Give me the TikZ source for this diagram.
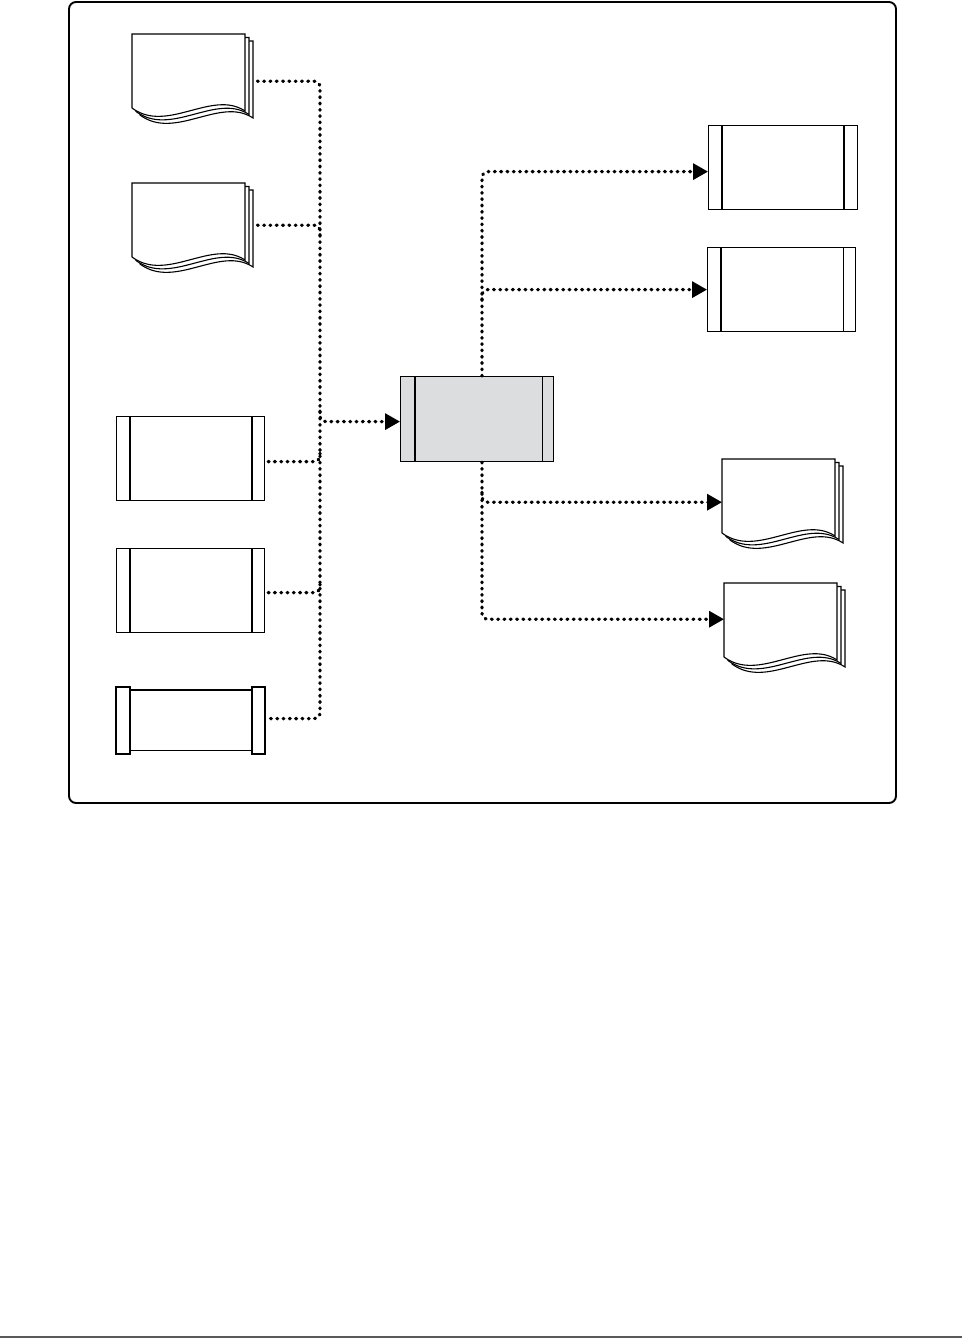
\documentclass[tikz,border=0pt]{standalone}
\usetikzlibrary{arrows.meta,calc}
\definecolor{boxgray}{HTML}{DCDDDF}
\tikzset{
  conn/.style={line width=3.3pt, line cap=round, dash pattern=on 0.8pt off 5.5pt, rounded corners=6pt},
  arr/.style={conn, -{Triangle[length=15pt,width=16pt]}},
  docnode/.style={draw=none, minimum width=121pt, minimum height=91pt, inner sep=0pt, anchor=north west},
  bbox/.style={draw, line width=1.2pt, minimum width=148pt, minimum height=84pt, inner sep=0pt, anchor=north west},
  thickin/.style={line width=2.4pt},
  thinin/.style={line width=1.2pt},
  frame/.style={line width=1.9pt, rounded corners=7pt},
  docline/.style={line width=1.1pt, fill=white}
}
\newcommand\mydoc[1]{%
  \begin{scope}[shift={(#1.north west)}]
    \foreach \sa/\sb in {8/7,4/3.5,0/0}{
      \draw[docline] (\sa,\sb) -- ++(113,0) -- ++(0,77)
        .. controls ++(-33,-22) and ++(35,26) .. ++(-113,-3) -- cycle;
    }
  \end{scope}}
\begin{document}
\begin{tikzpicture}[x=1pt,y=-1pt]
\useasboundingbox (0,0) rectangle (965,1339);
% frame and bottom rule
\draw[frame] (69,2) rectangle (896,803);
\draw[line width=1.8pt, color=black!65] (0,1337) -- (962,1337);

% left documents
\node[docnode] (d1) at (132,34) {};
\mydoc{d1}
\node[docnode] (d2) at (132,183) {};
\mydoc{d2}

% left boxes
\node[bbox] (b3) at (116,416) {};
\draw[thickin] ([xshift=14pt]b3.north west) -- ([xshift=14pt]b3.south west);
\draw[thickin] ([xshift=-13pt]b3.north east) -- ([xshift=-13pt]b3.south east);
\node[bbox] (b4) at (116,548) {};
\draw[thickin] ([xshift=14pt]b4.north west) -- ([xshift=14pt]b4.south west);
\draw[thickin] ([xshift=-13pt]b4.north east) -- ([xshift=-13pt]b4.south east);
\node[bbox, draw=none, minimum height=66pt] (b5) at (116,687) {};
\draw[thinin] ([xshift=14pt,yshift=-3pt]b5.north west) rectangle ([xshift=-13pt,yshift=4pt]b5.south east);
\draw[line width=2.2pt] (b5.north west) rectangle ([xshift=14pt]b5.south west);
\draw[line width=2.2pt] ([xshift=-13pt]b5.north east) rectangle (b5.south east);

% centre box
\node[bbox, fill=boxgray, minimum width=153pt, minimum height=85pt] (c) at (400,376) {};
\draw[thickin] ([xshift=15pt]c.north west) -- ([xshift=15pt]c.south west);
\draw[thinin] ([xshift=-12pt]c.north east) -- ([xshift=-12pt]c.south east);

% right boxes
\node[bbox, minimum width=149pt] (r1) at (708,125) {};
\draw[thickin] ([xshift=14pt]r1.north west) -- ([xshift=14pt]r1.south west);
\draw[thickin] ([xshift=-14pt]r1.north east) -- ([xshift=-14pt]r1.south east);
\node[bbox] (r2) at (707,247) {};
\draw[thinin] ([xshift=14pt]r2.north west) -- ([xshift=14pt]r2.south west);
\draw[thinin] ([xshift=-13pt]r2.north east) -- ([xshift=-13pt]r2.south east);

% right documents
\node[docnode] (r3) at (722,459) {};
\mydoc{r3}
\node[docnode] (r4) at (724,583) {};
\mydoc{r4}

% bus coordinates
\coordinate (L) at (320,421);
\coordinate (R) at (482,421);
\coordinate (s1) at ([xshift=4pt,yshift=-1.5pt]d1.east);
\coordinate (s2) at ([xshift=4pt,yshift=3.5pt]d2.east);
\coordinate (s3) at ([xshift=3pt,yshift=-3pt]b3.east);
\coordinate (s4) at ([xshift=3pt,yshift=-2pt]b4.east);
\coordinate (s5) at ([xshift=3pt,yshift=2pt]b5.east);
\coordinate (t1) at ([yshift=-4pt]r1.west);
\coordinate (t2) at (r2.west);
\coordinate (t3) at ([yshift=2.5pt]r3.west);
\coordinate (t4) at ([yshift=9.5pt]r4.west);

% left connectors
\draw[conn] (s1) -| (L) |- (s5);
\draw[conn] (s2) -| ($(s2 -| L)+(0,10)$);
\draw[conn] (s3) -| ($(s3 -| L)+(0,-10)$);
\draw[conn] (s4) -| ($(s4 -| L)+(0,-10)$);
\draw[arr] ($(L)+(0,-10)$) |- ([yshift=-2.5pt]c.west);

% right connectors
\draw[arr] (c.north -| R) |- (t1);
\draw[arr] ($(t2 -| R)+(0,10)$) |- (t2);
\draw[arr] (c.south -| R) |- (t4);
\draw[arr] ($(t3 -| R)+(0,-10)$) |- (t3);
\end{tikzpicture}
\end{document}
